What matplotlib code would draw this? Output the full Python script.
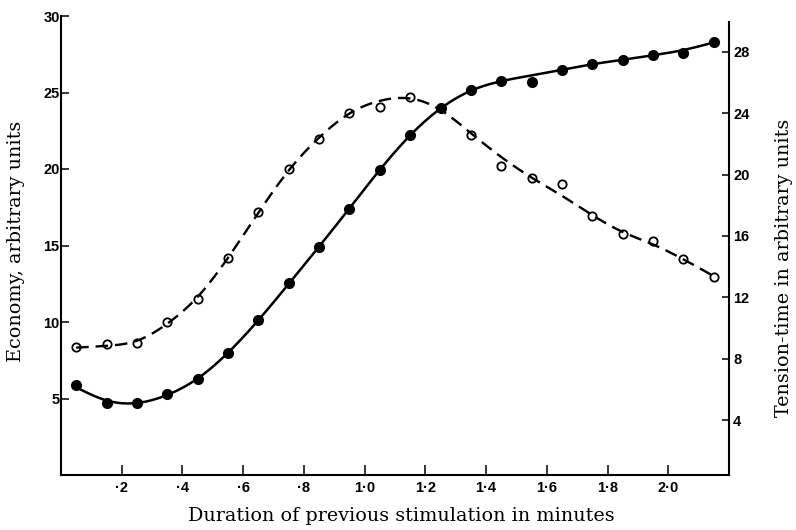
import numpy as np
import matplotlib
matplotlib.use("Agg")
import matplotlib.pyplot as plt

# ---- data ----
duration = [0.05, 0.15, 0.25, 0.35, 0.45, 0.55, 0.65, 0.75, 0.85, 0.95, 1.05,
            1.15, 1.25, 1.35, 1.45, 1.55, 1.65, 1.75, 1.85, 1.95, 2.05, 2.15]
tension_time = [6.28, 5.15, 5.09, 5.69, 6.67, 8.39, 10.52, 12.92, 15.30, 17.76, 20.31,
                22.59, 24.33, 25.51, 26.07, 26.03, 26.81, 27.22, 27.46, 27.79, 27.94, 28.64]
economy = [8.38, 8.53, 8.60, 9.97, 11.50, 14.16, 17.17, 20.03, 21.99, 23.69, 24.08,
           24.70, 24.00, 22.23, 20.22, 19.40, 19.02, 16.95, 15.75, 15.29, 14.12, 12.96]
# how closely the drawn smooth curves follow each point (outliers lie off the curve)
tension_fit_weight = [1, 1, 1, 1, 1, 1, 1, 1, 1, 1, 1,
                      1, 1, 1, 1, 0.1, 1, 1, 1, 1, 0.3, 1]
economy_fit_weight = [1, 1, 1, 1, 1, 1, 1, 1, 1, 1, 0.2,
                      1, 1, 1, 0.15, 1, 0.15, 1, 1, 0.5, 1, 1]

x_ticks = [0.2, 0.4, 0.6, 0.8, 1.0, 1.2, 1.4, 1.6, 1.8, 2.0]
x_ticklabels = ["\u00b72", "\u00b74", "\u00b76", "\u00b78", "1\u00b70", "1\u00b72",
                "1\u00b74", "1\u00b76", "1\u00b78", "2\u00b70"]
left_ticks = [5, 10, 15, 20, 25, 30]
right_ticks = [4, 8, 12, 16, 20, 24, 28]


def whittaker(y, w, lam):
    y = np.asarray(y, float)
    W = np.diag(np.asarray(w, float))
    n = len(y)
    D = np.diff(np.eye(n), 2, axis=0)
    return np.linalg.solve(W + lam * D.T @ D, W @ y)


def natural_spline(x, y, xs):
    x = np.asarray(x, float); y = np.asarray(y, float)
    n = len(x)
    h = np.diff(x)
    A = np.zeros((n, n)); b = np.zeros(n)
    A[0, 0] = A[-1, -1] = 1
    for i in range(1, n - 1):
        A[i, i - 1] = h[i - 1]
        A[i, i] = 2 * (h[i - 1] + h[i])
        A[i, i + 1] = h[i]
        b[i] = 3 * ((y[i + 1] - y[i]) / h[i] - (y[i] - y[i - 1]) / h[i - 1])
    c = np.linalg.solve(A, b)
    bb = (y[1:] - y[:-1]) / h - h * (2 * c[:-1] + c[1:]) / 3
    d = (c[1:] - c[:-1]) / (3 * h)
    idx = np.clip(np.searchsorted(x, xs) - 1, 0, n - 2)
    t = xs - x[idx]
    return y[idx] + bb[idx] * t + c[idx] * t ** 2 + d[idx] * t ** 3


plt.rcParams['lines.scale_dashes'] = False
fig = plt.figure(figsize=(7.96, 5.30), dpi=100)
ax = fig.add_axes([61 / 796, 1 - 475 / 530, (729 - 61) / 796, (475 - 16) / 530])
ax2 = ax.twinx()

ax.set_xlim(0, 2.2)
ax.set_ylim(0, 30)
ax2.set_ylim(0.43, 30.33)

xs = np.linspace(duration[0], duration[-1], 400)
tt_s = natural_spline(duration, whittaker(tension_time, tension_fit_weight, 0.2), xs)
ec_s = natural_spline(duration, whittaker(economy, economy_fit_weight, 0.25), xs)

ax.plot(xs, ec_s, color='black', lw=1.7, dashes=(9, 5))
ax.plot(duration, economy, 'o', ms=6, mfc='none', mec='black', mew=1.3)
ax2.plot(xs, tt_s, color='black', lw=1.8)
ax2.plot(duration, tension_time, 'o', ms=7, color='black')

tick_font = dict(family='Liberation Sans', size=10.5, weight='semibold')
label_font = dict(family='DejaVu Serif', size=13.8)

ax.set_xticks(x_ticks)
ax.set_xticklabels(x_ticklabels, fontdict=tick_font)
ax.set_yticks(left_ticks)
ax.set_yticklabels([str(t) for t in left_ticks], fontdict=tick_font)
ax2.set_yticks(right_ticks)
ax2.set_yticklabels([str(t) for t in right_ticks], fontdict=tick_font)

ax.tick_params(axis='x', direction='in', length=7, width=1.1, pad=4)
ax.tick_params(axis='y', direction='in', length=6, width=1.1, pad=1)
ax2.tick_params(axis='y', direction='in', length=5, width=1.1, pad=3)

for a in (ax, ax2):
    a.spines['top'].set_visible(False)
    for s in a.spines.values():
        s.set_linewidth(1.5)
ax.spines['right'].set_visible(False)
ax2.spines['left'].set_visible(False)
ax2.spines['bottom'].set_visible(False)
ax2.spines['right'].set_bounds(0.43, 29.96)

fig.text(401 / 796, 1 - 516 / 530, "Duration of previous stimulation in minutes",
         ha='center', va='center', **label_font)
fig.text(16 / 796, 1 - 241 / 530, "Economy, arbitrary units", rotation=90,
         ha='center', va='center', **label_font)
fig.text(784 / 796, 1 - 268 / 530, "Tension-time in arbitrary units", rotation=90,
         ha='center', va='center', **label_font)

fig.savefig("out.png", dpi=100, facecolor='white')
